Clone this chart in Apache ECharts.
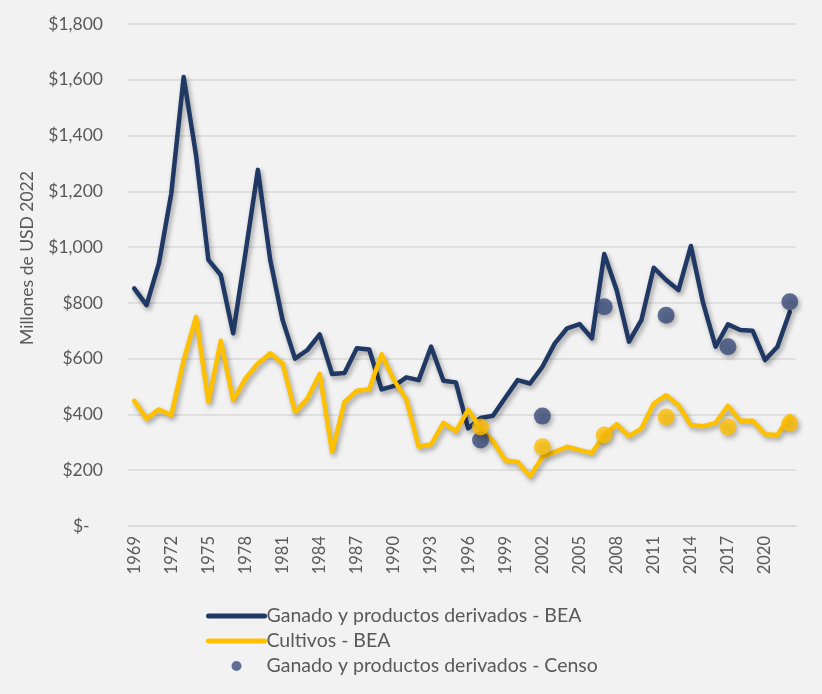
<!DOCTYPE html>
<html>
<head>
<meta charset="utf-8">
<style>
html,body{margin:0;padding:0;background:#f2f2f2;}
#chart{width:822px;height:694px;}
</style>
<script src="https://cdn.jsdelivr.net/npm/echarts@6/dist/echarts.min.js"></script>
</head>
<body>
<div id="chart"></div>
<script>
const years = [];
for (let y = 1969; y <= 2022; y++) years.push(String(y));

const livestockBEA = [852, 792, 942, 1193, 1610, 1330, 954, 900, 691, 980,
  1277, 954, 738, 600, 631, 687, 545, 549, 637, 633,
  490, 502, 533, 523, 643, 521, 515, 350, 387, 395,
  460, 523, 511, 571, 655, 709, 724, 673, 975, 846,
  661, 738, 926, 882, 846, 1004, 798, 643, 723, 703,
  700, 595, 643, 768];

const cropsBEA = [449, 385, 418, 397, 595, 750, 445, 664, 451, 529,
  583, 619, 583, 409, 457, 545, 266, 445, 485, 490,
  616, 523, 454, 284, 293, 370, 339, 417, 350, 305,
  236, 230, 178, 248, 266, 284, 272, 262, 326, 365,
  322, 350, 439, 469, 433, 362, 358, 370, 431, 377,
  377, 329, 326, 394];

const censusYears = ['1997', '2002', '2007', '2012', '2017', '2022'];
const livestockCenso = [308, 394, 786, 756, 643, 804];
const cropsCenso = [355, 284, 326, 391, 355, 368];

const yTicks = [0, 200, 400, 600, 800, 1000, 1200, 1400, 1600, 1800];

const FONT = '"Source Sans Pro", Lato, "Noto Sans", sans-serif';
const TXT = '#595959';
const NAVY = '#1f3864';
const GOLD = '#ffc000';
const DOT = '#3b4c7b';

const shadow = {shadowColor: 'rgba(0,0,0,0.35)', shadowBlur: 5, shadowOffsetX: 2, shadowOffsetY: 3};
const noShadow = {shadowBlur: 0, shadowOffsetX: 0, shadowOffsetY: 0, shadowColor: 'transparent'};

const chart = echarts.init(document.getElementById('chart'));
chart.setOption({
  backgroundColor: '#f2f2f2',
  animation: false,
  textStyle: {fontFamily: FONT},
  grid: {left: 128, right: 26, top: 24, bottom: 168, containLabel: false},
  xAxis: {
    type: 'category',
    data: years,
    boundaryGap: true,
    axisLine: {show: true, lineStyle: {color: '#d9d9d9', width: 1.5}},
    axisTick: {show: false},
    axisLabel: {interval: 2, rotate: 90, color: TXT, fontSize: 16.5, fontFamily: FONT, margin: 10},
    splitLine: {show: false}
  },
  yAxis: {
    type: 'value',
    min: yTicks[0],
    max: yTicks[yTicks.length - 1],
    interval: 200,
    axisLine: {show: false},
    axisTick: {show: false},
    axisLabel: {
      color: TXT, fontSize: 17.5, fontFamily: FONT, margin: 25,
      formatter: v => v === 0 ? '$-   ' : '$' + v.toLocaleString('en-US')
    },
    splitLine: {lineStyle: {color: '#d9d9d9', width: 1.5}}
  },
  graphic: [{
    type: 'text',
    x: 27, y: 258,
    rotation: Math.PI / 2,
    style: {text: 'Millones de USD 2022', fill: TXT, fontSize: 17.5, fontFamily: FONT,
      align: 'center', verticalAlign: 'middle'}
  }],
  legend: {
    orient: 'vertical',
    left: 201,
    top: 601,
    itemWidth: 56,
    itemHeight: 10,
    itemGap: 5,
    textStyle: {color: TXT, fontSize: 19.5, fontFamily: FONT, padding: [0, 0, 0, -3]},
    data: [
      {name: 'Ganado y productos derivados - BEA', lineStyle: Object.assign({width: 5}, noShadow), itemStyle: {opacity: 0}},
      {name: 'Cultivos - BEA', lineStyle: Object.assign({width: 5}, noShadow), itemStyle: {opacity: 0}},
      {name: 'Ganado y productos derivados - Censo', itemStyle: noShadow}
    ]
  },
  series: [
    {
      name: 'Ganado y productos derivados - BEA',
      type: 'line',
      data: livestockBEA,
      symbol: 'none',
      z: 2,
      lineStyle: Object.assign({color: NAVY, width: 4.5, cap: 'round', join: 'round'}, shadow),
      itemStyle: {color: NAVY}
    },
    {
      name: 'Cultivos - BEA',
      type: 'line',
      data: cropsBEA,
      symbol: 'none',
      z: 3,
      lineStyle: Object.assign({color: GOLD, width: 4.5, cap: 'round', join: 'round'}, shadow),
      itemStyle: {color: GOLD}
    },
    {
      name: 'Ganado y productos derivados - Censo',
      type: 'scatter',
      data: censusYears.map((y, i) => [y, livestockCenso[i]]),
      symbol: 'circle',
      symbolSize: 17,
      z: 4,
      itemStyle: Object.assign({color: DOT}, shadow)
    },
    {
      name: 'Cultivos - Censo',
      type: 'scatter',
      data: censusYears.map((y, i) => [y, cropsCenso[i]]),
      symbol: 'circle',
      symbolSize: 17,
      z: 5,
      itemStyle: Object.assign({color: GOLD}, shadow)
    }
  ]
});
</script>
</body>
</html>
